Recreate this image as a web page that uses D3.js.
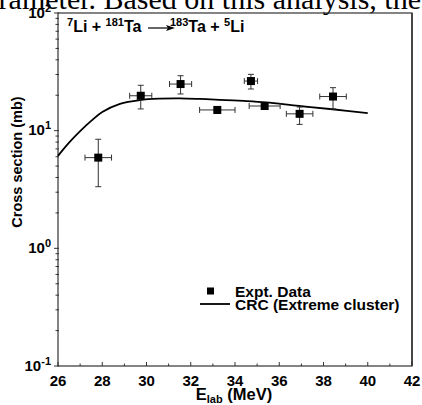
<!DOCTYPE html>
<html><head><meta charset="utf-8">
<script src="https://cdn.jsdelivr.net/npm/d3@7"></script>
<style>body{margin:0;background:#fff}svg{display:block}</style>
</head><body>
<svg id="c" width="422" height="405"></svg>
<script>
const energy = [27.82, 29.74, 31.54, 33.2, 34.72, 35.34, 36.92, 38.43];
const energyErr = [0.6, 0.5, 0.5, 0.8, 0.3, 0.7, 0.6, 0.6];
const sigma = [5.9, 19.8, 24.9, 15.0, 26.4, 16.2, 13.9, 19.5];
const sigmaLo = [3.34, 15.3, 20.5, 14.0, 22.6, 15.2, 11.3, 15.3];
const sigmaHi = [8.45, 24.3, 29.3, 16.0, 30.1, 17.2, 15.9, 23.2];
const crcE = [26, 26.5, 27, 27.5, 28, 28.8, 29.7, 30.6, 31.5, 32.4, 33.3, 34.4, 35.4, 36.9, 38.4, 40];
const crcSigma = [6.1, 7.9, 9.9, 12.1, 14.4, 16.9, 18.2, 18.7, 18.8, 18.6, 18.3, 17.9, 17.4, 16.2, 15.2, 14.1];
const xTicks = [26, 28, 30, 32, 34, 36, 38, 40, 42];
const yTicks = [0.1, 1, 10, 100];
const yTickExp = ["-1", "0", "1", "2"];

const svg = d3.select("#c");
const L = 58, R = 412, T = 13, B = 366;
const x = d3.scaleLinear().domain([26, 42]).range([L, R]);
const y = d3.scaleLog().domain([0.1, 100]).range([B, T]);
const font = "Arial, 'Liberation Sans', sans-serif";

// cropped page text at top
svg.append("text").attr("x", 421).attr("y", 8.5).attr("text-anchor", "end")
  .attr("font-family", "'Liberation Serif', 'Times New Roman', serif").attr("font-size", 30)
  .text("parameter. Based on this analysis, the");

// frame
svg.append("line").attr("x1", R).attr("x2", R).attr("y1", T).attr("y2", B).attr("stroke", "#555").attr("stroke-width", 1.8);
svg.append("rect").attr("x", L).attr("y", T).attr("width", R - L).attr("height", B - T)
  .attr("fill", "none").attr("stroke", "#333").attr("stroke-width", 1.2);

// x ticks
const xMinor = d3.range(27, 42, 2);
svg.append("g").selectAll("line").data(xTicks).join("line")
  .attr("x1", d => x(d)).attr("x2", d => x(d)).attr("y1", B).attr("y2", B - 4).attr("stroke", "#333");
svg.append("g").selectAll("line").data(xMinor).join("line")
  .attr("x1", d => x(d)).attr("x2", d => x(d)).attr("y1", B).attr("y2", B - 2.5).attr("stroke", "#333");
svg.append("g").selectAll("text").data(xTicks).join("text")
  .attr("x", d => x(d)).attr("y", 386).attr("text-anchor", "middle")
  .attr("font-family", font).attr("font-weight", "bold").attr("font-size", 15).text(d => d);

// y ticks
const yMinor = [];
[0.1, 1, 10].forEach(b => { for (let k = 2; k <= 9; k++) yMinor.push(b * k); });
svg.append("g").selectAll("line").data(yTicks).join("line")
  .attr("x1", L - 4).attr("x2", L + 1).attr("y1", d => y(d)).attr("y2", d => y(d)).attr("stroke", "#333");
svg.append("g").selectAll("line").data(yMinor).join("line")
  .attr("x1", L - 2.5).attr("x2", L + 1).attr("y1", d => y(d)).attr("y2", d => y(d)).attr("stroke", "#333");
const yl = svg.append("g").selectAll("text").data(yTicks).join("text")
  .attr("x", 51).attr("y", d => y(d) + 4.5).attr("text-anchor", "end")
  .attr("font-family", font).attr("font-weight", "bold").attr("font-size", 15);
yl.append("tspan").text("10");
yl.append("tspan").attr("dy", -6).attr("font-size", 11).text((d, i) => yTickExp[i]);

// axis titles
const xt = svg.append("text").attr("x", 234).attr("y", 400).attr("text-anchor", "middle")
  .attr("font-family", font).attr("font-weight", "bold").attr("font-size", 16.5);
xt.append("tspan").text("E");
xt.append("tspan").attr("dy", 3).attr("font-size", 11).text("lab");
xt.append("tspan").attr("dy", -3).text(" (MeV)");
svg.append("text").attr("transform", "translate(22,162) rotate(-90)").attr("text-anchor", "middle")
  .attr("font-family", font).attr("font-weight", "bold").attr("font-size", 14.5).text("Cross section (mb)");

// reaction label
const rl = svg.append("text").attr("x", 67).attr("y", 32)
  .attr("font-family", font).attr("font-weight", "bold").attr("font-size", 16);
rl.append("tspan").attr("dy", -6).attr("font-size", 11).text("7");
rl.append("tspan").attr("dy", 6).text("Li + ");
rl.append("tspan").attr("dy", -6).attr("font-size", 11).text("181");
rl.append("tspan").attr("dy", 6).text("Ta");
const rl2 = svg.append("text").attr("x", 170).attr("y", 32)
  .attr("font-family", font).attr("font-weight", "bold").attr("font-size", 16);
rl2.append("tspan").attr("dy", -6).attr("font-size", 11).text("183");
rl2.append("tspan").attr("dy", 6).text("Ta + ");
rl2.append("tspan").attr("dy", -6).attr("font-size", 11).text("5");
rl2.append("tspan").attr("dy", 6).text("Li");
svg.append("line").attr("x1", 148).attr("x2", 170).attr("y1", 28).attr("y2", 28).attr("stroke", "#000").attr("stroke-width", 1.2);
svg.append("path").attr("d", "M175,28 L166,25 L168,28 L166,31 Z").attr("fill", "#000");

// curve
const line = d3.line().x(d => x(d[0])).y(d => y(d[1])).curve(d3.curveCatmullRom);
svg.append("path").datum(crcE.map((e, i) => [e, crcSigma[i]])).attr("d", line)
  .attr("fill", "none").attr("stroke", "#000").attr("stroke-width", 1.8);

// error bars and points
const pts = svg.append("g").selectAll("g").data(energy.map((e, i) => i)).join("g");
const ebc = "#333";
pts.append("line").attr("x1", i => x(energy[i] - energyErr[i])).attr("x2", i => x(energy[i] + energyErr[i]))
  .attr("y1", i => y(sigma[i])).attr("y2", i => y(sigma[i])).attr("stroke", ebc);
pts.append("line").attr("x1", i => x(energy[i] - energyErr[i])).attr("x2", i => x(energy[i] - energyErr[i]))
  .attr("y1", i => y(sigma[i]) - 3).attr("y2", i => y(sigma[i]) + 3).attr("stroke", ebc);
pts.append("line").attr("x1", i => x(energy[i] + energyErr[i])).attr("x2", i => x(energy[i] + energyErr[i]))
  .attr("y1", i => y(sigma[i]) - 3).attr("y2", i => y(sigma[i]) + 3).attr("stroke", ebc);
pts.append("line").attr("x1", i => x(energy[i])).attr("x2", i => x(energy[i]))
  .attr("y1", i => y(sigmaLo[i])).attr("y2", i => y(sigmaHi[i])).attr("stroke", ebc);
pts.append("line").attr("x1", i => x(energy[i]) - 3).attr("x2", i => x(energy[i]) + 3)
  .attr("y1", i => y(sigmaLo[i])).attr("y2", i => y(sigmaLo[i])).attr("stroke", ebc);
pts.append("line").attr("x1", i => x(energy[i]) - 3).attr("x2", i => x(energy[i]) + 3)
  .attr("y1", i => y(sigmaHi[i])).attr("y2", i => y(sigmaHi[i])).attr("stroke", ebc);
pts.append("rect").attr("x", i => x(energy[i]) - 4).attr("y", i => y(sigma[i]) - 4)
  .attr("width", 8).attr("height", 8).attr("fill", "#000");

// legend
svg.append("rect").attr("x", 207).attr("y", 287.5).attr("width", 7).attr("height", 7).attr("fill", "#000");
svg.append("text").attr("x", 235).attr("y", 296.5).attr("font-family", font).attr("font-weight", "bold")
  .attr("font-size", 15.5).text("Expt. Data");
svg.append("line").attr("x1", 200).attr("x2", 230).attr("y1", 304).attr("y2", 304).attr("stroke", "#000").attr("stroke-width", 1.8);
svg.append("text").attr("x", 235).attr("y", 310).attr("font-family", font).attr("font-weight", "bold")
  .attr("font-size", 15.5).text("CRC (Extreme cluster)");
</script>
</body></html>
